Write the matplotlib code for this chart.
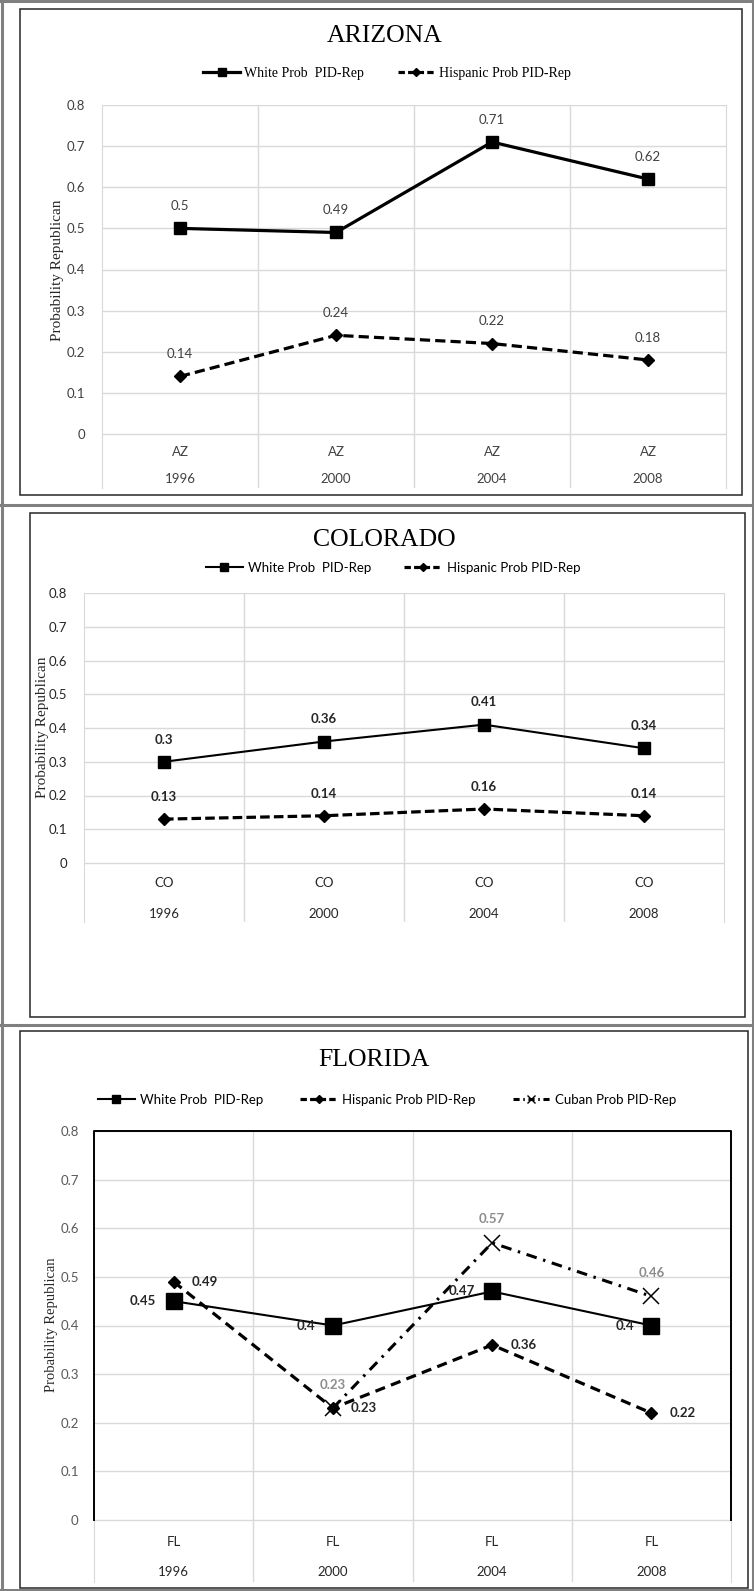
import numpy as np
import matplotlib
matplotlib.use("Agg")
import matplotlib.pyplot as plt
from matplotlib.lines import Line2D
from matplotlib.patches import Rectangle

W, H, DPI = 754, 1591, 100

years = ["1996", "2000", "2004", "2008"]
yticks = [0, 0.1, 0.2, 0.3, 0.4, 0.5, 0.6, 0.7, 0.8]

# Arizona
az_white = [0.50, 0.49, 0.71, 0.62]
az_hisp = [0.14, 0.24, 0.22, 0.18]

# Colorado
co_white = [0.30, 0.36, 0.41, 0.34]
co_hisp = [0.13, 0.14, 0.16, 0.14]

# Florida (no Cuban estimate for 1996)
fl_white = [0.45, 0.40, 0.47, 0.40]
fl_hisp = [0.49, 0.23, 0.36, 0.22]
fl_cuban = [np.nan, 0.23, 0.57, 0.46]

SANS = ["Lato", "DejaVu Sans"]
SERIF = ["Liberation Serif", "DejaVu Serif"]
GRID = "#d9d9d9"

fig = plt.figure(figsize=(W / DPI, H / DPI), dpi=DPI)


def fpt(x, y):
    return x / W, 1 - y / H


def hline(y, x0, x1, color="#808080", lw=2.2):
    fig.add_artist(Line2D([x0 / W, x1 / W], [1 - y / H] * 2, transform=fig.transFigure,
                          color=color, lw=lw))


def vline(x, y0, y1, color="#808080", lw=2.2):
    fig.add_artist(Line2D([x / W] * 2, [1 - y0 / H, 1 - y1 / H], transform=fig.transFigure,
                          color=color, lw=lw))


def box(x0, y0, x1, y1, color="#262626", lw=1.1):
    fig.add_artist(Rectangle((x0 / W, 1 - y1 / H), (x1 - x0) / W, (y1 - y0) / H,
                             transform=fig.transFigure, fill=False, ec=color, lw=lw))


def panel(left, right, top, zero, bottom):
    """Axes whose 0.8 line sits at pixel row `top`, 0 at `zero`, and whose
    category separators run down to `bottom`."""
    ax = fig.add_axes([left / W, 1 - bottom / H, (right - left) / W, (bottom - top) / H])
    scale = (zero - top) / 0.8
    ax.set_xlim(-0.5, 3.5)
    ax.set_ylim(-(bottom - zero) / scale, 0.8)
    return ax, scale


def style(ax, scale, zero, state, cat_rows, tick_color, cat_color, pad, tsize):
    ax.set_yticks(yticks)
    ax.set_yticklabels(["%g" % t for t in yticks], family=SANS)
    ax.tick_params(axis="y", length=0, pad=pad, labelsize=tsize, labelcolor=tick_color)
    ax.set_xticks([])
    ax.grid(axis="y", color=GRID, lw=1)
    for x in [0.5, 1.5, 2.5]:
        ax.axvline(x, color=GRID, lw=1, zorder=1)
    for s in ["top", "bottom"]:
        ax.spines[s].set_visible(False)
    for s in ["left", "right"]:
        ax.spines[s].set_color(GRID)
    row1, row2 = [-(r - zero) / scale for r in cat_rows]
    for i, yr in enumerate(years):
        ax.text(i, row1, state, ha="center", va="center", family=SANS, size=tsize, color=cat_color)
        ax.text(i, row2, yr, ha="center", va="center", family=SANS, size=tsize, color=cat_color)


x = np.arange(len(years))

# ---- outer table frame ----
vline(1.5, 0, H)
vline(752.5, 0, H)
hline(1.2, 0, W)
hline(505, 0, W)
hline(1025, 0, W)
hline(1590, 0, W)

# ---- ARIZONA ----
box(20, 9, 742, 495)
fig.text(*fpt(385, 36), "ARIZONA", ha="center", va="center", family=SERIF, size=18.5)
ax, sc = panel(102, 726, 105, 434, 488)
style(ax, sc, 434, "AZ", (452, 479), "#404040", "#404040", 12, 9.5)
ax.plot(x, az_white, color="black", lw=2.3, marker="s", ms=8.5)
ax.plot(x, az_hisp, color="black", lw=2.3, dashes=(3.2, 1.6), marker="D", ms=6.5)
for i in x:
    ax.annotate("%g" % az_white[i], (i, az_white[i]), xytext=(0, 16), textcoords="offset points",
                ha="center", va="center", family=SANS, size=9.5, color="#404040")
    ax.annotate("%g" % az_hisp[i], (i, az_hisp[i]), xytext=(0, 16), textcoords="offset points",
                ha="center", va="center", family=SANS, size=9.5, color="#404040")
fig.text(*fpt(58, 270), "Probability Republican", rotation=90, ha="center", va="center",
         family=SERIF, size=11, color="#262626")
h = [Line2D([], [], color="black", lw=2.3, marker="s", ms=6),
     Line2D([], [], color="black", lw=2.3, dashes=(2, 1), marker="D", ms=4.5)]
fig.legend(h, ["White Prob  PID-Rep", "Hispanic Prob PID-Rep"], loc="center",
           bbox_to_anchor=fpt(387, 73), ncol=2, frameon=False, handlelength=2.6,
           columnspacing=2.5, handletextpad=0.3, prop={"family": SERIF, "size": 10})

# ---- COLORADO ----
box(30, 513, 745, 1017)
fig.text(*fpt(384, 540), "COLORADO", ha="center", va="center", family=SERIF, size=18.5)
ax, sc = panel(84, 724, 593, 863, 922)
style(ax, sc, 863, "CO", (883, 914), "#262626", "#262626", 12, 9.5)
ax.plot(x, co_white, color="black", lw=1.5, marker="s", ms=8.5)
ax.plot(x, co_hisp, color="black", lw=2.3, dashes=(3.0, 1.3), marker="D", ms=6.5)
for i in x:
    ax.annotate("%g" % co_white[i], (i, co_white[i]), xytext=(0, 16), textcoords="offset points",
                ha="center", va="center", family=SANS, size=9.5, weight="bold", color="#262626")
    ax.annotate("%g" % co_hisp[i], (i, co_hisp[i]), xytext=(0, 16), textcoords="offset points",
                ha="center", va="center", family=SANS, size=9.5, weight="bold", color="#262626")
fig.text(*fpt(43, 727), "Probability Republican", rotation=90, ha="center", va="center",
         family=SERIF, size=11, color="#262626")
h = [Line2D([], [], color="black", lw=1.5, marker="s", ms=6),
     Line2D([], [], color="black", lw=2.3, dashes=(2, 1), marker="D", ms=4.5)]
fig.legend(h, ["White Prob  PID-Rep", "Hispanic Prob PID-Rep"], loc="center",
           bbox_to_anchor=fpt(393, 568), ncol=2, frameon=False, handlelength=2.8,
           columnspacing=2.5, handletextpad=0.4, prop={"family": SANS, "size": 9.5})

# ---- FLORIDA ----
box(20, 1031, 748, 1588)
fig.text(*fpt(374, 1060), "FLORIDA", ha="center", va="center", family=SERIF, size=18.5)
ax, sc = panel(94, 731, 1131, 1520, 1582)
style(ax, sc, 1520, "FL", (1542, 1572), "#595959", "#262626", 11, 9.5)
# black frame round the 0-0.8 area
ax.plot([-0.5, -0.5, 3.5, 3.5], [0, 0.8, 0.8, 0], color="black", lw=1.4, clip_on=False, zorder=3)
ax.plot(x, fl_white, color="black", lw=1.5, marker="s", ms=11)
ax.plot(x, fl_hisp, color="black", lw=2.3, dashes=(3.2, 2.0), marker="D", ms=6.5)
ax.plot(x, fl_cuban, color="black", lw=2.2, dashes=(3.5, 2.2, 0.8, 2.2), marker="x", ms=11,
        mew=1.1)
for i in x:
    ax.annotate("%g" % fl_white[i], (i, fl_white[i]), xytext=(-12.5, 0), textcoords="offset points",
                ha="right", va="center", family=SANS, size=9.5, weight="bold", color="#262626")
    ax.annotate("%g" % fl_hisp[i], (i, fl_hisp[i]), xytext=(13, 0), textcoords="offset points",
                ha="left", va="center", family=SANS, size=9.5, weight="bold", color="#262626")
    if not np.isnan(fl_cuban[i]):
        ax.annotate("%g" % fl_cuban[i], (i, fl_cuban[i]), xytext=(0, 17), textcoords="offset points",
                    ha="center", va="center", family=SANS, size=9.5, weight="bold", color="#8c8c8c")
fig.text(*fpt(52, 1325), "Probability Republican", rotation=90, ha="center", va="center",
         family=SERIF, size=10.5, color="#262626")
h = [Line2D([], [], color="black", lw=1.5, marker="s", ms=6),
     Line2D([], [], color="black", lw=2.3, dashes=(2, 1), marker="D", ms=4.5),
     Line2D([], [], color="black", lw=2.2, dashes=(2, 1.2, 0.5, 1.2), marker="x", ms=6)]
fig.legend(h, ["White Prob  PID-Rep", "Hispanic Prob PID-Rep", "Cuban Prob PID-Rep"],
           loc="center", bbox_to_anchor=fpt(387, 1100), ncol=3, frameon=False,
           handlelength=2.8, columnspacing=2.8, handletextpad=0.4,
           prop={"family": SANS, "size": 9.5})

fig.savefig("out.png", dpi=DPI)
